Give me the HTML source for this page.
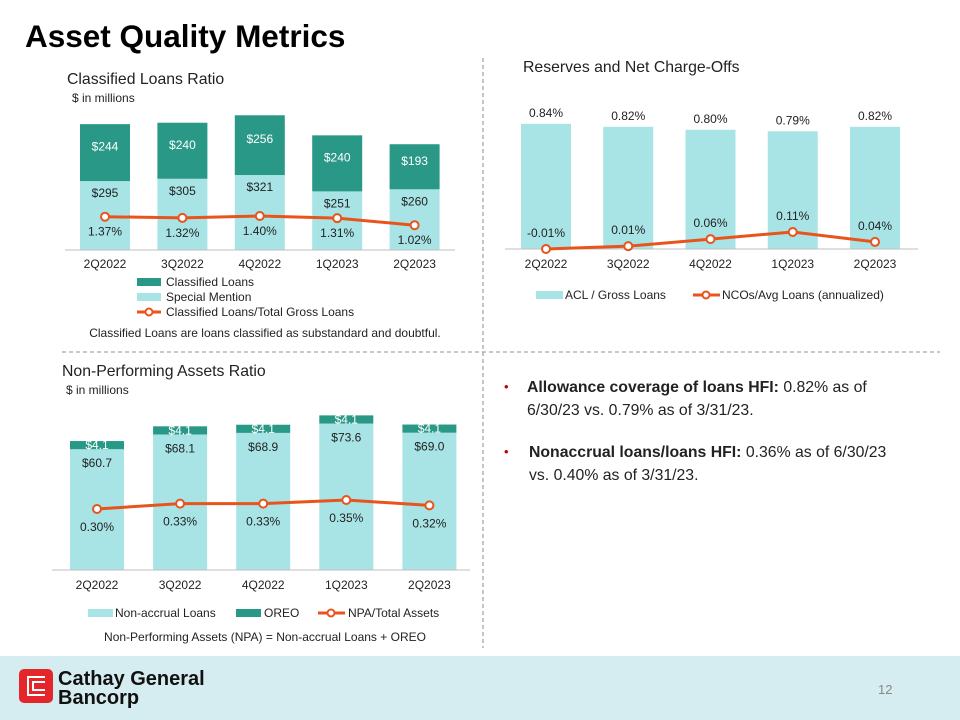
<!DOCTYPE html>
<html><head><meta charset="utf-8"><style>
body{margin:0;background:#fff;}
svg{display:block;font-family:"Liberation Sans",Arial,sans-serif;}
</style></head><body>
<svg id="s" width="960" height="720" viewBox="0 0 960 720" xmlns="http://www.w3.org/2000/svg">
<text x="25" y="47" font-size="31.5" font-weight="bold" fill="#000">Asset Quality Metrics</text>
<line x1="483" y1="58" x2="483" y2="648" stroke="#a6a6a6" stroke-width="1.3" stroke-dasharray="4,3"/>
<line x1="62" y1="352" x2="940" y2="352" stroke="#a6a6a6" stroke-width="1.3" stroke-dasharray="4,3"/>

<text x="67" y="84" font-size="15.8" fill="#222">Classified Loans Ratio</text>
<text x="72" y="102" font-size="12" fill="#222">$ in millions</text>
<text x="523" y="72" font-size="15.8" fill="#222">Reserves and Net Charge-Offs</text>
<text x="62" y="376" font-size="15.8" fill="#222">Non-Performing Assets Ratio</text>
<text x="66" y="394" font-size="12" fill="#222">$ in millions</text>

<g id="c1"></g>
<g id="c2"></g>
<g id="c3"></g>

<g font-size="12" fill="#222">
<rect x="137" y="278" width="24" height="8" fill="#2a9886"/><text x="166" y="286">Classified Loans</text>
<rect x="137" y="293" width="24" height="8" fill="#a8e4e6"/><text x="166" y="301">Special Mention</text>
<line x1="137" y1="312" x2="161" y2="312" stroke="#e8541c" stroke-width="3"/><circle cx="149" cy="312" r="3.5" fill="#fff" stroke="#e8541c" stroke-width="2"/><text x="166" y="316">Classified Loans/Total Gross Loans</text>
</g>
<text x="265" y="337" font-size="12" text-anchor="middle" fill="#222">Classified Loans are loans classified as substandard and doubtful.</text>

<g font-size="12" fill="#222">
<rect x="536" y="291" width="27" height="8" fill="#a8e4e6"/><text x="565" y="299">ACL / Gross Loans</text>
<line x1="693" y1="295" x2="720" y2="295" stroke="#e8541c" stroke-width="3"/><circle cx="706" cy="295" r="3.5" fill="#fff" stroke="#e8541c" stroke-width="2"/><text x="722" y="299">NCOs/Avg Loans (annualized)</text>
</g>

<g font-size="12" fill="#222">
<rect x="88" y="609" width="25" height="8" fill="#a8e4e6"/><text x="115" y="617">Non-accrual Loans</text>
<rect x="236" y="609" width="25" height="8" fill="#2a9886"/><text x="264" y="617">OREO</text>
<line x1="318" y1="613" x2="345" y2="613" stroke="#e8541c" stroke-width="3"/><circle cx="331" cy="613" r="3.5" fill="#fff" stroke="#e8541c" stroke-width="2"/><text x="348" y="617">NPA/Total Assets</text>
</g>
<text x="265" y="641" font-size="12" text-anchor="middle" fill="#222">Non-Performing Assets (NPA) = Non-accrual Loans + OREO</text>

<g font-size="15.8" fill="#222">
<text x="504" y="391" fill="#c00000" font-size="13">•</text>
<text x="527" y="392"><tspan font-weight="bold">Allowance coverage of loans HFI:</tspan> 0.82% as of</text>
<text x="527" y="415">6/30/23 vs. 0.79% as of 3/31/23.</text>
<text x="504" y="456" fill="#c00000" font-size="13">•</text>
<text x="529" y="457"><tspan font-weight="bold">Nonaccrual loans/loans HFI:</tspan> 0.36% as of 6/30/23</text>
<text x="529" y="480">vs. 0.40% as of 3/31/23.</text>
</g>

<rect x="0" y="656" width="960" height="64" fill="#d5edf0"/>
<g>
<rect x="19" y="669" width="34" height="34" rx="5" fill="#e4262b"/>
<path d="M45 677 H28 V695 H45 M45 682 H33 V690 H45" fill="none" stroke="#fff" stroke-width="2"/>
<text x="58" y="685" font-size="20" font-weight="bold" fill="#111">Cathay General</text>
<text x="58" y="704" font-size="20" font-weight="bold" fill="#111">Bancorp</text>
</g>
<text x="878" y="694" font-size="13" fill="#888">12</text>
</svg>
<script>
const quarters = ["2Q2022","3Q2022","4Q2022","1Q2023","2Q2023"];
const specialMention = [295,305,321,251,260];
const classifiedLoans = [244,240,256,240,193];
const classifiedRatio = [1.37,1.32,1.40,1.31,1.02];
const aclRatio = [0.84,0.82,0.80,0.79,0.82];
const ncoRatio = [-0.01,0.01,0.06,0.11,0.04];
const nonAccrual = [60.7,68.1,68.9,73.6,69.0];
const oreo = [4.1,4.1,4.1,4.1,4.1];
const npaRatio = [0.30,0.33,0.33,0.35,0.32];

const NS="http://www.w3.org/2000/svg";
function mk(parent,tag,attrs,text){const e=document.createElementNS(NS,tag);for(const k in attrs)e.setAttribute(k,attrs[k]);if(text!==undefined)e.textContent=text;parent.appendChild(e);return e;}
const LIGHT="#a8e4e6",DARK="#2a9886",OR="#e8541c";

function drawLine(g,xs,ys,labels,dy,name){
  let d="";xs.forEach((x,i)=>d+=(i?"L":"M")+x+" "+ys[i]);
  const p=mk(g,"path",{d:d,fill:"none",stroke:OR,"stroke-width":3});
  
  
  xs.forEach((x,i)=>{
    const c=mk(g,"circle",{cx:x,cy:ys[i],r:4,fill:"#fff",stroke:OR,"stroke-width":2});
    
    
    const t=mk(g,"text",{x:x,y:ys[i]+dy,"font-size":12,"text-anchor":"middle",fill:"#222"},labels[i]);
    
    
  });
}
function xLabels(g,xs,y){
  xs.forEach((x,i)=>{const t=mk(g,"text",{x:x,y:y,"font-size":12,"text-anchor":"middle",fill:"#222"},quarters[i]);
    
    });
}

// Chart 1
(function(){
  const g=document.getElementById("c1");
  const base=250,sc=0.2335,x0=105,step=77.4,w=50;
  const xOf=i=>x0+i*step, yB=v=>base-v*sc, yL=v=>250-v*24.3;
  const xs=[],ys=[];
  quarters.forEach((q,i)=>{
    const cx=xOf(i),ys1=yB(specialMention[i]),yc=yB(specialMention[i]+classifiedLoans[i]);
    const r1=mk(g,"rect",{x:cx-w/2,y:ys1,width:w,height:base-ys1,fill:LIGHT});
    
    
    const r2=mk(g,"rect",{x:cx-w/2,y:yc,width:w,height:ys1-yc,fill:DARK});
    
    
    const t1=mk(g,"text",{x:cx,y:ys1+16,"font-size":12,"text-anchor":"middle",fill:"#222"},"$"+specialMention[i]);
    
    
    const t2=mk(g,"text",{x:cx,y:(yc+ys1)/2-2,"font-size":12,"text-anchor":"middle",fill:"#fff"},"$"+classifiedLoans[i]);
    
    
    xs.push(cx);ys.push(yL(classifiedRatio[i]));
  });
  const ax=mk(g,"line",{x1:65,y1:base,x2:455,y2:base,stroke:"#bfbfbf","stroke-width":1});
  
  
  drawLine(g,xs,ys,classifiedRatio.map(v=>v.toFixed(2)+"%"),19,"classified-ratio");
  xLabels(g,xs,268);
})();

// Chart 2
(function(){
  const g=document.getElementById("c2");
  const base=249,sc=149,x0=546,step=82.25,w=50;
  const xOf=i=>x0+i*step, yB=v=>base-v*sc, yL=v=>247.6-v*142;
  const xs=[],ys=[];
  quarters.forEach((q,i)=>{
    const cx=xOf(i),yt=yB(aclRatio[i]);
    const r=mk(g,"rect",{x:cx-w/2,y:yt,width:w,height:base-yt,fill:LIGHT});
    
    
    const t=mk(g,"text",{x:cx,y:yt-7,"font-size":12,"text-anchor":"middle",fill:"#222"},aclRatio[i].toFixed(2)+"%");
    
    
    xs.push(cx);ys.push(yL(ncoRatio[i]));
  });
  const ax=mk(g,"line",{x1:505,y1:base,x2:918,y2:base,stroke:"#bfbfbf","stroke-width":1});
  
  
  drawLine(g,xs,ys,ncoRatio.map(v=>v.toFixed(2)+"%"),-12,"nco-ratio");
  xLabels(g,xs,268);
})();

// Chart 3
(function(){
  const g=document.getElementById("c3");
  const base=570,sc=1.99,x0=97,step=83.1,w=54;
  const xOf=i=>x0+i*step, yB=v=>base-v*sc, yL=v=>563-v*180;
  const xs=[],ys=[];
  quarters.forEach((q,i)=>{
    const cx=xOf(i),yn=yB(nonAccrual[i]),yo=yB(nonAccrual[i]+oreo[i]);
    const r1=mk(g,"rect",{x:cx-w/2,y:yn,width:w,height:base-yn,fill:LIGHT});
    
    
    const r2=mk(g,"rect",{x:cx-w/2,y:yo,width:w,height:yn-yo,fill:DARK});
    
    
    const t2=mk(g,"text",{x:cx,y:(yo+yn)/2+4,"font-size":12,"text-anchor":"middle",fill:"#fff"},"$"+oreo[i].toFixed(1));
    
    
    const t1=mk(g,"text",{x:cx,y:yn+18,"font-size":12,"text-anchor":"middle",fill:"#222"},"$"+nonAccrual[i].toFixed(1));
    
    
    xs.push(cx);ys.push(yL(npaRatio[i]));
  });
  const ax=mk(g,"line",{x1:52,y1:base,x2:470,y2:base,stroke:"#bfbfbf","stroke-width":1});
  
  
  drawLine(g,xs,ys,npaRatio.map(v=>v.toFixed(2)+"%"),22,"npa-ratio");
  xLabels(g,xs,589);
})();
</script>
</body></html>
